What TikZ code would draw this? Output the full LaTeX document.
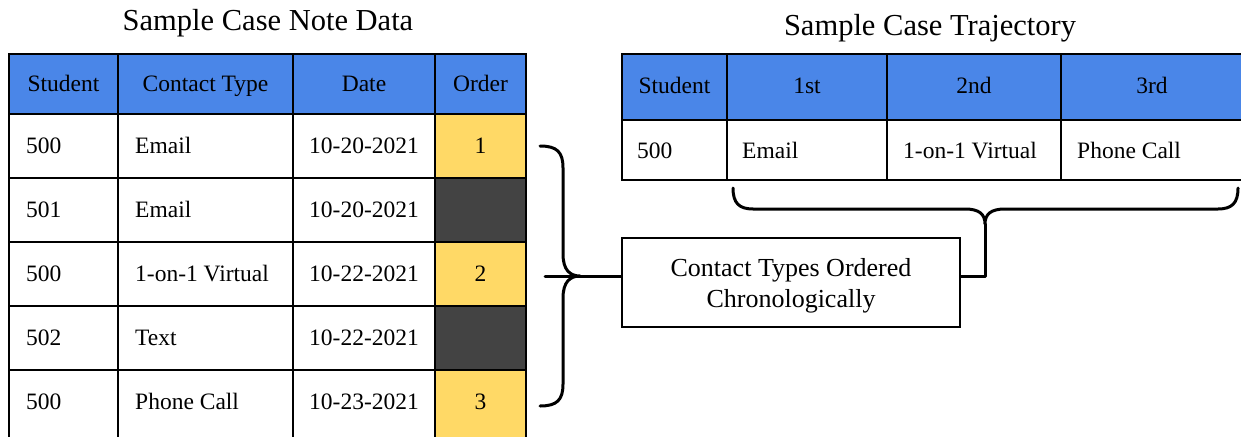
\documentclass[tikz,border=0pt]{standalone}
\usepackage{fontspec}
\setmainfont{Liberation Serif}
\definecolor{hdrblue}{HTML}{4A86E8}
\definecolor{ordyellow}{HTML}{FFD966}
\definecolor{ordgray}{HTML}{434343}
\newcommand\cellfnt{\fontsize{23.5}{28}\selectfont}
\newcommand\boxfnt{\fontsize{26}{31}\selectfont}
\newcommand\titlefnt{\fontsize{30.5}{36}\selectfont}
% vertical nudge of cell text (the open last row is taller than its text band)
\newcommand\rowlift{0}
% centred cell: name, x, y, width, height, fill, text
\newcommand\ccell[7]{%
  \node[cellbox, fill=#6, minimum width=#4pt, minimum height=#5pt] (#1) at ({#2+#4/2},{#3+#5/2}) {};
  \node[celltext] (#1t) at ([yshift=\rowlift pt]#1.center) {#7};}
% left-aligned cell: name, x, y, width, height, fill, text, padding
\newcommand\lcell[8]{%
  \node[cellbox, fill=#6, minimum width=#4pt, minimum height=#5pt] (#1) at ({#2+#4/2},{#3+#5/2}) {};
  \node[celltext, anchor=west] (#1t) at ([xshift=#8pt, yshift=\rowlift pt]#1.west) {#7};}
\begin{document}
\begin{tikzpicture}[x=1pt,y=-1pt,
  cellbox/.style={draw=black, line width=1.3pt, inner sep=0pt, outer sep=0pt},
  celltext/.style={inner sep=0pt, font=\cellfnt, text height=16pt, text depth=0.4pt},
  titletext/.style={inner sep=0pt, font=\titlefnt},
  brace/.style={draw=black, line width=3pt, line cap=round, line join=round}]
\useasboundingbox[fill=white] (0,0) rectangle (1241,436);

% ---- titles
\node[titletext, anchor=base] (ltitle) at (268,31) {Sample Case Note Data};
\node[titletext, anchor=base] (rtitle) at (930,36) {Sample Case Trajectory};

% ---- case note table
\ccell{h1}{9}{54}{109}{60}{hdrblue}{Student}
\ccell{h2}{118}{54}{175}{60}{hdrblue}{Contact Type}
\ccell{h3}{293}{54}{142}{60}{hdrblue}{Date}
\ccell{h4}{435}{54}{91}{60}{hdrblue}{Order}

\lcell{a1}{9}{114}{109}{64}{white}{500}{17}
\lcell{a2}{118}{114}{175}{64}{white}{Email}{17}
\ccell{a3}{293}{114}{142}{64}{white}{10-20-2021}
\ccell{a4}{435}{114}{91}{64}{ordyellow}{1}

\lcell{b1}{9}{178}{109}{64}{white}{501}{17}
\lcell{b2}{118}{178}{175}{64}{white}{Email}{17}
\ccell{b3}{293}{178}{142}{64}{white}{10-20-2021}
\ccell{b4}{435}{178}{91}{64}{ordgray}{}

\lcell{c1}{9}{242}{109}{64}{white}{500}{17}
\lcell{c2}{118}{242}{175}{64}{white}{1-on-1 Virtual}{17}
\ccell{c3}{293}{242}{142}{64}{white}{10-22-2021}
\ccell{c4}{435}{242}{91}{64}{ordyellow}{2}

\lcell{d1}{9}{306}{109}{64}{white}{502}{17}
\lcell{d2}{118}{306}{175}{64}{white}{Text}{17}
\ccell{d3}{293}{306}{142}{64}{white}{10-22-2021}
\ccell{d4}{435}{306}{91}{64}{ordgray}{}

\renewcommand\rowlift{3}
\lcell{e1}{9}{370}{109}{70}{white}{500}{17}
\lcell{e2}{118}{370}{175}{70}{white}{Phone Call}{17}
\ccell{e3}{293}{370}{142}{70}{white}{10-23-2021}
\ccell{e4}{435}{370}{91}{70}{ordyellow}{3}
\renewcommand\rowlift{1}

% ---- trajectory table
\ccell{t1}{622}{54}{105}{66}{hdrblue}{Student}
\ccell{t2}{727}{54}{160}{66}{hdrblue}{1st}
\ccell{t3}{887}{54}{174}{66}{hdrblue}{2nd}
\ccell{t4}{1061}{54}{182}{66}{hdrblue}{3rd}

\renewcommand\rowlift{-1}
\lcell{s1}{622}{120}{105}{60}{white}{500}{15}
\lcell{s2}{727}{120}{160}{60}{white}{Email}{15}
\lcell{s3}{887}{120}{174}{60}{white}{1-on-1 Virtual}{16}
\lcell{s4}{1061}{120}{182}{60}{white}{Phone Call}{16}

% ---- summary box
\node[draw=black, line width=1.3pt, inner sep=0pt, minimum width=338pt, minimum height=89pt] (box) at (791,282.5) {};
\node[inner sep=0pt, font=\boxfnt, align=center] (boxt) at ([yshift=-3pt]box.center) {Contact Types Ordered\\Chronologically};

% ---- brace grouping the ordered rows
\coordinate (lbt) at (540,146);
\coordinate (lbtip) at (580,276);
\coordinate (lbb) at (540,406);
\coordinate (lbin) at (545,276);
\draw[brace] (lbt) .. controls (557,146) and (563,152) .. (563,168) -- (563,254)
  .. controls (563,270) and (570,276) .. (lbtip)
  .. controls (570,276) and (563,282) .. (563,298) -- (563,384)
  .. controls (563,400) and (557,406) .. (lbb);
\draw[brace] (lbin) -- (lbin -| box.west);

% ---- brace under the trajectory columns
\coordinate (rbl) at (733,188);
\coordinate (rbtip) at (985,224);
\coordinate (rbr) at (1238,188);
\coordinate (rbelbow) at (985,276);
\draw[brace] (rbl) .. controls (733,203) and (739,209) .. (753,209) -- (965,209)
  .. controls (979,209) and (985,214) .. (rbtip)
  .. controls (985,214) and (991,209) .. (1005,209) -- (1218,209)
  .. controls (1232,209) and (1238,203) .. (rbr);
\draw[brace] (rbtip) -- (rbelbow) -- (rbelbow -| box.east);
\end{tikzpicture}
\end{document}
